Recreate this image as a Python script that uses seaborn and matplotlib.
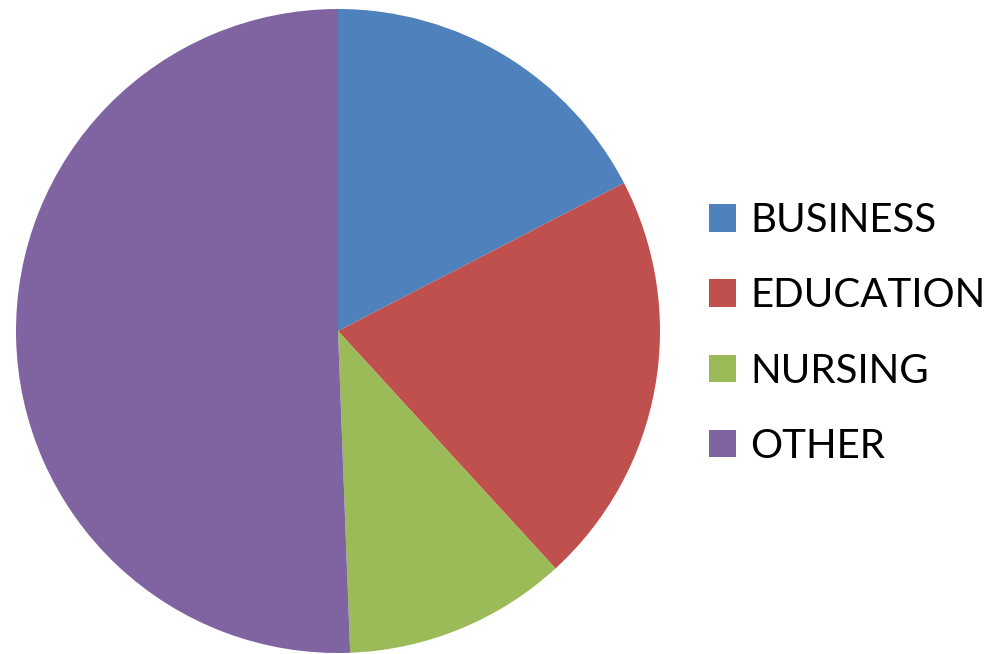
import matplotlib
matplotlib.use("Agg")
import matplotlib.pyplot as plt
import seaborn as sns

# Share of students by field
categories = ["BUSINESS", "EDUCATION", "NURSING", "OTHER"]
shares = [17.4, 20.8, 11.2, 50.6]
colors = ["#4F81BD", "#C0504D", "#9BBB59", "#8064A2"]

sns.set_theme(style="white")
plt.rcParams["font.family"] = ["Lato", "DejaVu Sans"]

W, H = 1003, 654
fig = plt.figure(figsize=(W / 100, H / 100), dpi=100)
cx, cy, r = 338, 331, 322
ax = fig.add_axes([(cx - r) / W, (H - cy - r) / H, 2 * r / W, 2 * r / H])
wedges, _ = ax.pie(shares, colors=colors, startangle=90, counterclock=False,
                   radius=1.0, wedgeprops=dict(linewidth=0))
ax.set_xlim(-1, 1)
ax.set_ylim(-1, 1)
ax.set_aspect("equal")
ax.axis("off")

leg = fig.legend(wedges, categories, loc="upper left",
                 bbox_to_anchor=(709 / W, 1 - 202 / H),
                 frameon=False, fontsize=29, labelcolor="black",
                 handlelength=0.67, handleheight=0.67, handletextpad=0.35,
                 labelspacing=0.95, borderaxespad=0, borderpad=0)

fig.savefig("out.png", dpi=100)
